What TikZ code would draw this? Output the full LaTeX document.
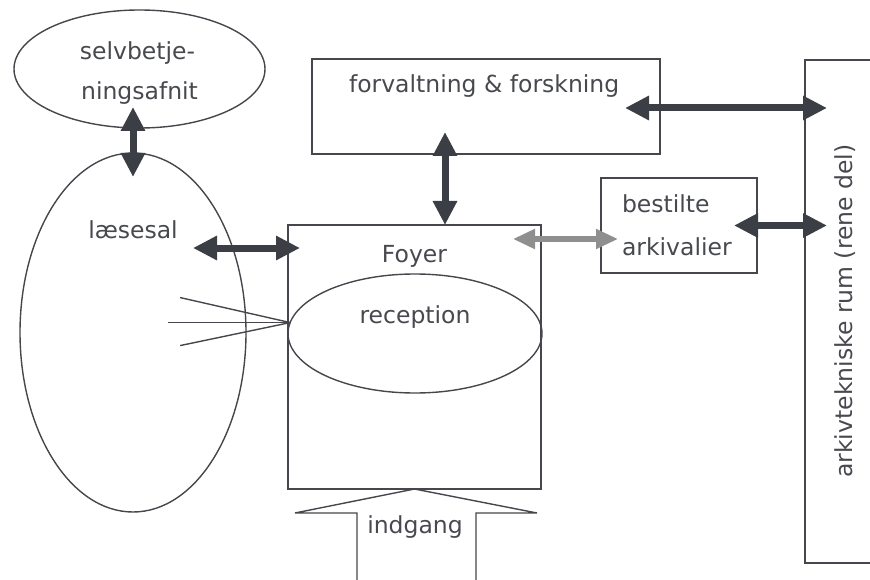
\documentclass[tikz,border=0pt]{standalone}
\usepackage{fontspec}
\setmainfont{DejaVu Sans}
\usetikzlibrary{arrows.meta,shapes.geometric}
\definecolor{ln}{HTML}{45474D}
\definecolor{tx}{HTML}{47494E}
\definecolor{arr}{HTML}{3B3E45}
\definecolor{garr}{HTML}{8F8F8F}
\tikzset{
  boxnode/.style={draw=ln, line width=1.4pt, rectangle, inner sep=0pt, outer sep=0pt},
  ellnode/.style={draw=ln, line width=1.4pt, ellipse, inner sep=0pt, outer sep=0pt},
  lab/.style={text=tx, font=\fontsize{23.5}{28}\selectfont, inner sep=0pt, outer sep=0pt},
  dbl/.style={draw=arr, line width=7pt,
     {Triangle[width=23pt,length=24pt]}-{Triangle[width=23pt,length=24pt]}},
  greyarr/.style={draw=garr, line width=5pt,
     {Triangle[width=19pt,length=22pt]}-{Triangle[width=19pt,length=22pt]}},
  thinline/.style={draw=ln, line width=1.4pt}
}
\begin{document}
\begin{tikzpicture}[x=1pt,y=-1pt]
\useasboundingbox (0,0) rectangle (870,580);
% shapes
\node[ellnode, minimum width=251pt, minimum height=118pt] (selv) at (139.5,69) {};
\node[ellnode, minimum width=226pt, minimum height=359pt] (laese) at (133,332.5) {};
\node[boxnode, minimum width=253pt, minimum height=264pt] (foyer) at (414.5,357) {};
\node[ellnode, minimum width=254pt, minimum height=119pt] (rec) at (415,333.5) {};
\node[boxnode, minimum width=348pt, minimum height=95pt] (forv) at (486,106.5) {};
\node[boxnode, minimum width=156pt, minimum height=95pt] (best) at (679,225.5) {};
\node[boxnode, minimum width=95pt, minimum height=503pt] (arkiv) at (852.5,311.5) {};
% texts
\node[lab, anchor=base] (selvA) at (137.5,60) {selvbetje-};
\node[lab, anchor=base] (selvB) at (139.5,100) {ningsafnit};
\node[lab, anchor=base] (laeseT) at (133,238) {læsesal};
\node[lab, anchor=base] (foyerT) at (414.5,262) {Foyer};
\node[lab, anchor=base] (recT) at (415,323) {reception};
\node[lab, anchor=base west] (forvT) at (349,93) {forvaltning \& forskning};
\node[lab, anchor=base west] (bestA) at (622,213) {bestilte};
\node[lab, anchor=base west] (bestB) at (622,255) {arkivalier};
\node[lab, anchor=base, rotate=90] (arkivT) at (852,311) {arkivtekniske rum (rene del)};
\node[lab, anchor=base] (indT) at (415,533) {indgang};
% entrance arrow shape
\draw[thinline] (foyer.south) -- ++(122.5,24) -- ++(-61,0) -- ++(0,80);
\draw[thinline] (foyer.south) -- ++(-119.5,24) -- ++(62,0) -- ++(0,80);
% fan lines
\draw[thinline] (rec.175) -- ++(-110,-25);
\draw[thinline] (rec.175) -- ++(-122,0);
\draw[thinline] (rec.175) -- ++(-110,23);
% connectors
\draw[dbl, shorten <=-24pt, shorten >=-21pt] (laese.north) -- (laese.north |- selv.south);
\draw[dbl, shorten <=-12pt] ([yshift=-23pt]foyer.north west) -- ++(-95,0);
\draw[dbl, shorten >=-22pt] ([xshift=30.5pt]foyer.north) -- ([xshift=30.5pt]foyer.north |- forv.south);
\draw[dbl, shorten <=-35pt, shorten >=-22pt] ([yshift=-1.5pt]forv.east) -- ([yshift=-1.5pt]forv.east -| arkiv.west);
\draw[dbl, shorten <=-23pt, shorten >=-22pt] (best.east) -- (best.east -| arkiv.west);
\draw[greyarr, shorten <=-28pt, shorten >=-17pt] ([yshift=-14pt]foyer.north east) -- ([yshift=-14pt]foyer.north east -| best.west);
\end{tikzpicture}
\end{document}
